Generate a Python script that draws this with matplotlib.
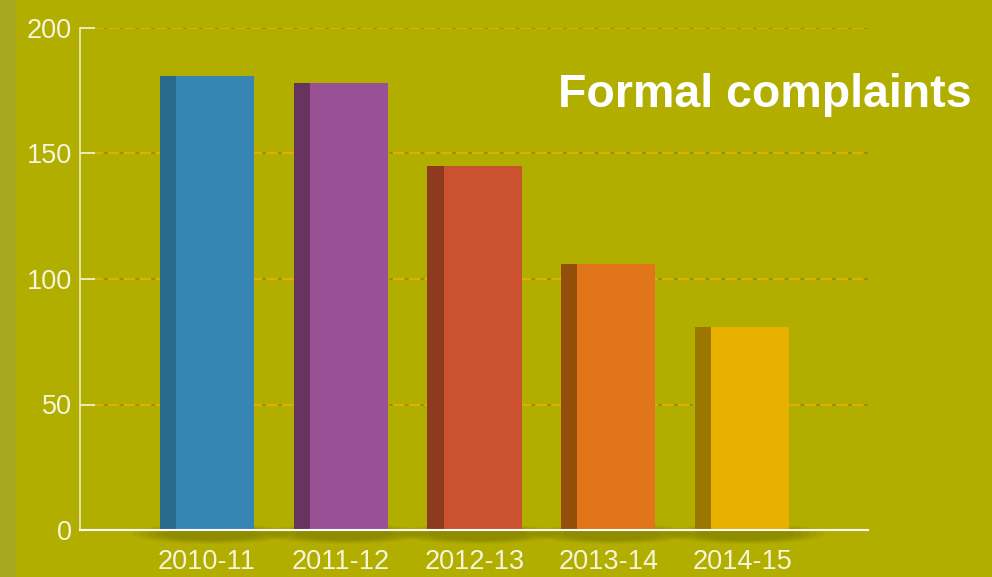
import matplotlib
matplotlib.use("Agg")
import matplotlib.pyplot as plt
from matplotlib.patches import Ellipse

categories = ["2010-11", "2011-12", "2012-13", "2013-14", "2014-15"]
values = [181, 178, 145, 106, 81]
front_colors = ["#3586b3", "#9a5094", "#cc512e", "#e07519", "#e9b000"]
side_colors = ["#276a8c", "#66345f", "#8e3a1e", "#934f0a", "#9b7700"]
yticks = [0, 50, 100, 150, 200]
title = "Formal complaints"

plt.rcParams['font.family'] = ['Liberation Sans', 'DejaVu Sans']
BG = "#b2ae00"
fig = plt.figure(figsize=(9.92, 5.77), dpi=100, facecolor=BG)
fig.patches.append(plt.Rectangle((0, 0), 16/992, 1, transform=fig.transFigure,
                                 facecolor="#a8a820", edgecolor="none", zorder=0))
ax = fig.add_axes([80/992, 47/577, 788/992, 502/577])
ax.set_facecolor(BG)

total_w = 0.703
side_w = 0.12
front_w = total_w - side_w
x = list(range(len(categories)))

for i, v in enumerate(values):
    left = x[i] - total_w / 2
    for k in range(5):
        s = 1 + k * 0.15
        ax.add_patch(Ellipse((x[i] + 0.03, -1.5), total_w * 1.05 * s, 5 * s,
                             facecolor="#505000", edgecolor="none",
                             alpha=0.08, zorder=1.5, clip_on=False))
    ax.bar(left, v, width=side_w, align='edge', color=side_colors[i], zorder=3)
    ax.bar(left + side_w, v, width=front_w, align='edge', color=front_colors[i], zorder=3)

ax.set_xlim(-0.9495, 4.942)
ax.set_ylim(0, 200)
ax.set_yticks(yticks)
ax.set_xticks(x)
ax.set_xticklabels(categories)
for yv in yticks[1:]:
    ax.axhline(yv, xmin=12/788, xmax=1, color="#8f8c20", linewidth=1.2, zorder=1)
    ax.axhline(yv, xmin=12/788, xmax=1, color="#f0b400", linewidth=1.2,
               linestyle=(0, (7, 2.5)), zorder=1.1)
ax.tick_params(axis='y', direction='in', length=11, width=1.2, color="#f5f5dc",
               labelsize=19.5, labelcolor="#f5f5dc", pad=6)
ax.tick_params(axis='x', length=0, labelsize=19.5, labelcolor="#f5f5dc", pad=14)
for s in ["top", "right"]:
    ax.spines[s].set_visible(False)
ax.spines["left"].set_color("#f0f0c8")
ax.spines["bottom"].set_color("#ffffff")
ax.spines["left"].set_linewidth(1.2)
ax.spines["bottom"].set_linewidth(1.5)
ax.spines["bottom"].set_zorder(4)

fig.text(972/992, (577-107)/577, title, ha='right', va='baseline',
         fontsize=33.5, fontweight='bold', color='white')

fig.savefig("out.png", dpi=100, facecolor=BG)
